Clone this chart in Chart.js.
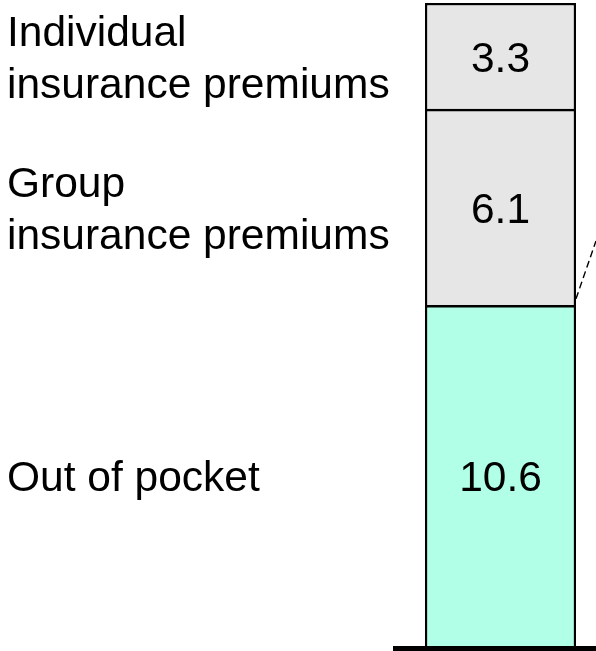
<!DOCTYPE html>
<html>
<head>
<meta charset="utf-8">
<script src="https://cdn.jsdelivr.net/npm/chart.js@4"></script>
<style>
  html, body { margin: 0; padding: 0; background: #fff; }
  #wrap { width: 596px; height: 651px; position: relative; }
</style>
</head>
<body>
<div id="wrap"><canvas id="spendChart"></canvas></div>
<script>
const categories = ['Total'];
const segmentLabels = [['Out of pocket'], ['Group', 'insurance premiums'], ['Individual', 'insurance premiums']];
const segmentValues = [10.6, 6.1, 3.3];
const segmentColors = ['#b0ffe6', '#e6e6e6', '#e6e6e6'];
const calloutValues = [10.8, 12.6];  // dashed leader line, start at bar edge, end at canvas edge

const FONT = '42.5px "Liberation Sans", Arial, sans-serif';

const labelPlugin = {
  id: 'segmentText',
  afterDatasetsDraw(chart) {
    const ctx = chart.ctx;
    const y = chart.scales.y;
    const area = chart.chartArea;
    let cum = 0;
    ctx.save();
    ctx.font = FONT;
    ctx.fillStyle = '#000';
    ctx.textBaseline = 'middle';
    segmentValues.forEach((v, i) => {
      const mid = y.getPixelForValue(cum + v / 2);
      const bar = chart.getDatasetMeta(i).data[0];
      ctx.textAlign = 'center';
      ctx.fillText(v.toFixed(1), bar.x, mid + 4);
      ctx.textAlign = 'left';
      const lines = segmentLabels[i];
      lines.forEach((line, j) => {
        ctx.fillText(line, 7, mid + 4 + (j - (lines.length - 1) / 2) * 52);
      });
      cum += v;
    });

    // dashed leader line
    const bar = chart.getDatasetMeta(0).data[0];
    const right = bar.x + bar.width / 2;
    ctx.strokeStyle = '#000';
    ctx.lineWidth = 1.4;
    ctx.setLineDash([7, 4]);
    ctx.beginPath();
    ctx.moveTo(right, y.getPixelForValue(calloutValues[0]));
    ctx.lineTo(chart.width, y.getPixelForValue(calloutValues[1]));
    ctx.stroke();

    // base line
    ctx.setLineDash([]);
    ctx.lineWidth = 5;
    ctx.beginPath();
    ctx.moveTo(area.left - 32, y.getPixelForValue(0) + 2.5);
    ctx.lineTo(chart.width, y.getPixelForValue(0) + 2.5);
    ctx.stroke();
    ctx.restore();
  }
};

new Chart(document.getElementById('spendChart'), {
  type: 'bar',
  data: {
    labels: categories,
    datasets: segmentValues.map((v, i) => ({
      label: segmentLabels[i].join(' '),
      data: [v],
      backgroundColor: segmentColors[i],
      borderColor: '#000',
      borderWidth: 2.5,
      barPercentage: 1,
      categoryPercentage: 1
    }))
  },
  options: {
    responsive: true,
    maintainAspectRatio: false,
    animation: false,
    layout: { padding: { left: 425, right: 20, top: 3, bottom: 5 } },
    scales: {
      x: { stacked: true, display: false },
      y: { stacked: true, display: false, min: 0, max: 20 }
    },
    plugins: {
      legend: { display: false },
      tooltip: { enabled: false }
    }
  },
  plugins: [labelPlugin]
});
</script>
</body>
</html>
